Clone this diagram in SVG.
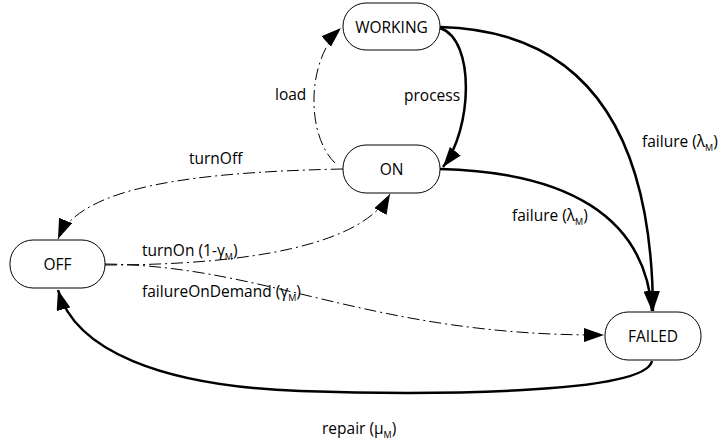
<svg xmlns="http://www.w3.org/2000/svg" width="723" height="443" viewBox="0 0 723 443">
<defs>
<marker id="ah" markerUnits="userSpaceOnUse" markerWidth="22" markerHeight="14" refX="20" refY="7" orient="auto">
<path d="M0,0 L20,7 L0,14 z" fill="#000"/>
</marker>
<style>
.node rect{fill:#fff;stroke:#000;stroke-width:1}
.node text{font-family:"Open Sans","Liberation Sans",sans-serif;font-size:15.5px;text-anchor:middle;fill:#000}
.lbl{font-family:"Open Sans","Liberation Sans",sans-serif;font-size:15.5px;fill:#000}
.sub{font-size:9px}
.solid{fill:none;stroke:#000;stroke-width:2.5;marker-end:url(#ah)}
.dd{fill:none;stroke:#000;stroke-width:1;stroke-dasharray:12,4,2,4;marker-end:url(#ah)}
</style>
</defs>
<g id="connectors">
<path class="dd" d="M335,163 C306,135 306,60 341,28"/>
<path class="solid" d="M440,28 C476,40 472,130 443,167"/>
<path class="solid" d="M440,27 C560,30 652,100 653,311"/>
<path class="solid" d="M440,169 C565,172 645,215 652,311"/>
<path class="dd" d="M343,169 C200,172 80,185 58,239"/>
<path class="dd" d="M105,265 C250,265 362,245 390,194"/>
<path class="dd" d="M105,264 C270,266 370,336 604,335"/>
<path class="solid" d="M652,361 C645,395 420,395 300,391 C160,386 75,350 58,290"/>
</g>
<g id="WORKING" class="node"><rect x="343" y="3" width="97" height="47" rx="23"/><text x="391.5" y="32.5">WORKING</text></g>
<g id="ON" class="node"><rect x="343" y="145" width="97" height="48" rx="23"/><text x="391.5" y="174.5">ON</text></g>
<g id="OFF" class="node"><rect x="10" y="240" width="95" height="48" rx="23"/><text x="57.5" y="269.5">OFF</text></g>
<g id="FAILED" class="node"><rect x="605" y="312" width="96" height="48" rx="23"/><text x="653" y="341.5">FAILED</text></g>
<g id="labels">
<text class="lbl" x="275" y="100">load</text>
<text class="lbl" x="404" y="101">process</text>
<text class="lbl" x="642" y="147">failure (λ<tspan class="sub" dy="4">M</tspan><tspan dy="-4">)</tspan></text>
<text class="lbl" x="512" y="221">failure (λ<tspan class="sub" dy="4">M</tspan><tspan dy="-4">)</tspan></text>
<text class="lbl" x="189" y="164">turnOff</text>
<text class="lbl" x="142" y="256">turnOn (1-γ<tspan class="sub" dy="4">M</tspan><tspan dy="-4">)</tspan></text>
<text class="lbl" x="142" y="297">failureOnDemand (γ<tspan class="sub" dy="4">M</tspan><tspan dy="-4">)</tspan></text>
<text class="lbl" x="322" y="434">repair (μ<tspan class="sub" dy="4">M</tspan><tspan dy="-4">)</tspan></text>
</g>
</svg>
